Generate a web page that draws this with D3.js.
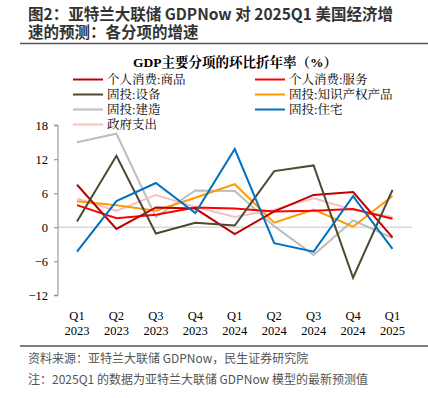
<!DOCTYPE html>
<html><head><meta charset="utf-8">
<script src="https://cdn.jsdelivr.net/npm/d3@7"></script>
<style>
body{margin:0;background:#fff;}
svg{display:block;}
</style></head>
<body><svg id="c" width="428" height="398"></svg>
<script>
const quarters = ["Q1","Q2","Q3","Q4","Q1","Q2","Q3","Q4","Q1"];
const years = ["2023","2023","2023","2023","2024","2024","2024","2024","2025"];
const yTicks = [-12,-6,0,6,12,18];
const seriesNames = ["个人消费:商品","个人消费:服务","固投:设备","固投:知识产权产品","固投:建造","固投:住宅","政府支出"];
const goods      = [7.5,-0.3,3.5,3.3,-1.2,2.8,5.7,6.2,-1.8];
const services   = [3.9,1.6,2.2,3.5,3.3,2.8,2.9,3.2,1.5];
const equipment  = [1.0,12.6,-1.1,0.8,0.3,9.9,10.9,-8.9,6.6];
const ipp        = [4.6,3.9,2.9,5.2,7.6,0.8,3.1,0.1,5.5];
const structures = [15.0,16.5,1.8,6.5,6.4,0.2,-4.9,1.2,-1.9];
const residential= [-4.3,4.6,7.8,2.5,13.8,-2.8,-4.3,5.5,-3.8];
const government = [5.1,2.9,5.7,3.6,1.8,3.1,5.1,3.1,1.8];
const seriesValues = [goods,services,equipment,ipp,structures,residential,government];
const colors = ["#C00000","#FF0000","#4B4A32","#FF9A00","#BDBDBD","#0070C0","#F4C0C0"];
// draw order: back to front
const drawOrder = [4,6,3,1,0,2,5];

const svg = d3.select("#c");
const serif = "'Times New Roman','Liberation Serif','Noto Serif CJK SC','Noto Sans CJK SC',serif";
const sans = "'Microsoft YaHei','Noto Sans CJK SC','Noto Sans',sans-serif";

// Header
svg.append("text").attr("x",28).attr("y",20).attr("font-family",sans).attr("font-weight","bold")
  .attr("font-size",15.5).attr("fill","#333").text("图2：亚特兰大联储 GDPNow 对 2025Q1 美国经济增");
svg.append("text").attr("x",28).attr("y",37.5).attr("font-family",sans).attr("font-weight","bold")
  .attr("font-size",15.5).attr("fill","#333").text("速的预测：各分项的增速");
svg.append("line").attr("x1",20).attr("x2",428).attr("y1",43.5).attr("y2",43.5).attr("stroke","#555").attr("stroke-width",1.5);

// chart title
svg.append("text").attr("x",235).attr("y",67).attr("text-anchor","middle").attr("font-family",serif)
  .attr("font-weight","bold").attr("font-size",13.5).attr("fill","#000").text("GDP主要分项的环比折年率（%）");

// legend
const legendPos = [[0,0],[1,0],[0,1],[1,1],[0,2],[1,2],[0,3]];
const lg = svg.append("g");
seriesNames.forEach((n,i)=>{
  const [c,r] = legendPos[i];
  const x0 = c===0 ? 73 : 255;
  const y0 = 79.5 + r*15;
  lg.append("line").attr("x1",x0).attr("x2",x0+30).attr("y1",y0).attr("y2",y0)
    .attr("stroke",colors[i]).attr("stroke-width",2);
  lg.append("text").attr("x",x0+34).attr("y",y0+4.5).attr("font-family",serif).attr("font-size",12.5)
    .attr("fill","#000").text(n);
});

// scales
const x = d3.scalePoint().domain(d3.range(quarters.length)).range([77,392.5]);
const y = d3.scaleLinear().domain([-12,18]).range([295.3,125.2]);

// zero line
svg.append("line").attr("x1",58).attr("x2",412).attr("y1",y(0)).attr("y2",y(0))
  .attr("stroke","#D9D9D9").attr("stroke-width",1.5);

// y axis
const yAxis = svg.append("g").attr("transform","translate(58,0)")
  .call(d3.axisLeft(y).tickValues(yTicks).tickSize(4).tickPadding(6).tickFormat(d3.format("d")));
yAxis.select(".domain").attr("stroke","#898989").attr("d","M-4,"+y(18)+"H0V"+y(-12)+"H-4");
yAxis.selectAll(".tick line").attr("stroke","#898989");
yAxis.selectAll("text").attr("font-family",serif).attr("font-size",12.5).attr("fill","#000");

// x labels
const xl = svg.append("g");
quarters.forEach((q,i)=>{
  const t = xl.append("text").attr("x",x(i)).attr("text-anchor","middle").attr("font-family",serif)
    .attr("font-size",12.5).attr("fill","#000");
  t.append("tspan").attr("x",x(i)).attr("y",320).text(q);
  t.append("tspan").attr("x",x(i)).attr("y",334.5).text(years[i]);
});

// lines
const line = d3.line().x((d,i)=>x(i)).y(d=>y(d));
drawOrder.forEach(k=>{
  svg.append("path").datum(seriesValues[k]).attr("d",line).attr("fill","none")
    .attr("stroke",colors[k]).attr("stroke-width",2).attr("stroke-linejoin","miter");
});

// footer
svg.append("line").attr("x1",20).attr("x2",428).attr("y1",346).attr("y2",346).attr("stroke","#555").attr("stroke-width",1.5);
svg.append("text").attr("x",28).attr("y",363).attr("font-family",sans).attr("font-size",12)
  .attr("fill","#555").text("资料来源：亚特兰大联储 GDPNow，民生证券研究院");
svg.append("text").attr("x",28).attr("y",384).attr("font-family",sans).attr("font-size",12)
  .attr("fill","#555").text("注：2025Q1 的数据为亚特兰大联储 GDPNow 模型的最新预测值");
</script></body></html>
